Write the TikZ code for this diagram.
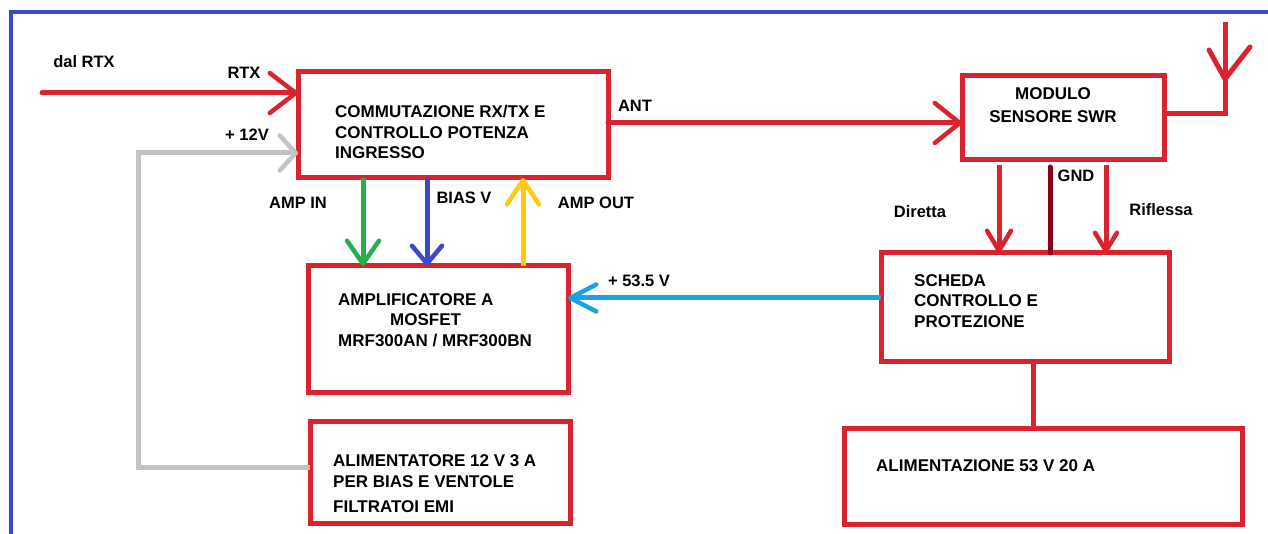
\documentclass[tikz,border=0pt]{standalone}
\usepackage{fontspec}
\setmainfont{Liberation Sans}
\usetikzlibrary{arrows.meta, positioning}

\definecolor{boxred}{HTML}{D9232E}
\definecolor{framblue}{HTML}{3F48CC}
\definecolor{ampgreen}{HTML}{22B14C}
\definecolor{biasblue}{HTML}{3F48CC}
\definecolor{outyellow}{HTML}{FFC90E}
\definecolor{skyblue}{HTML}{1AA3E2}
\definecolor{wiregrey}{HTML}{C3C3C3}
\definecolor{gndred}{HTML}{880015}

\begin{document}
\begin{tikzpicture}[
    x=1pt, y=-1pt,
    barb/.style 2 args={-{Straight Barb[length=#1, width=#2, line width=4.5pt, round]}},
    blockbox/.style={rectangle, draw=boxred, line width=5pt, outer sep=0pt, inner sep=0pt},
    blocktext/.style={anchor=west, align=left, inner sep=0pt, font=\fontsize{17}{20.5}\selectfont\bfseries},
    tag/.style={inner sep=0pt, font=\fontsize{16.5}{19}\selectfont\bfseries},
    wire/.style={line width=5pt, line cap=round}
]
\useasboundingbox (0,0) rectangle (1268,534);

% outer frame
\coordinate (frameA) at (11,534);
\coordinate (frameB) at (11,12);
\coordinate (frameC) at (1268,12);
\draw[framblue, line width=4pt] (frameA) -- (frameB) -- (frameC);

% blocks
\node[blockbox, minimum width=310pt, minimum height=106pt] (commbox) at (453,125) {};
\node[blockbox, minimum width=260pt, minimum height=126pt] (ampbox) at (438,329) {};
\node[blockbox, minimum width=260pt, minimum height=102pt] (psubox) at (440,472) {};
\node[blockbox, minimum width=202pt, minimum height=84pt] (swrbox) at (1063,118) {};
\node[blockbox, minimum width=288pt, minimum height=108pt] (ctrlbox) at (1025,307) {};
\node[blockbox, minimum width=398pt, minimum height=96pt] (mainbox) at (1043,476) {};

% block texts
\node[blocktext] (commtext) at (335,132) {COMMUTAZIONE RX/TX E\\CONTROLLO POTENZA\\INGRESSO};
\node[blocktext] (amptext) at (338,320) {AMPLIFICATORE A\\\hspace*{52pt}MOSFET\\MRF300AN / MRF300BN};
\node[blocktext] (psutext) at (333,461) {ALIMENTATORE 12 V 3 A};
\node[blocktext] (psutextb) at (333,482) {PER BIAS E VENTOLE};
\node[blocktext] (psutextc) at (333,507) {FILTRATOI EMI};
\node[blocktext, align=center, anchor=center] (swrtext) at (1053,105.5) {MODULO\\[2.5pt]SENSORE SWR};
\node[blocktext] (ctrltext) at (914,301) {SCHEDA\\CONTROLLO E\\PROTEZIONE};
\node[blocktext] (maintext) at (876,466) {ALIMENTAZIONE 53 V 20 A};

% free ends
\coordinate (rtxstart) at (42,93);
\coordinate (bend12) at (138,153);
\coordinate (anttop) at (1225,22);
\coordinate (anttip) at (1225,79);
\coordinate (antleft) at (1209,50);
\coordinate (antright) at (1250,47);

% rtx and antenna path
\draw[boxred, wire, barb={26pt}{40pt}] (rtxstart) -- (rtxstart -| commbox.west);
\draw[boxred, wire, barb={25pt}{40pt}] ([yshift=2pt]commbox.east) -- ([yshift=-5pt]swrbox.west);
\draw[boxred, wire, line cap=butt] ([yshift=4pt]swrbox.east) -| (anttop);
\draw[boxred, wire] (antleft) -- (anttip) -- (antright);

% 12 V supply
\draw[wiregrey, wire, line cap=butt, barb={16pt}{35pt}] ([yshift=5pt]psubox.west) -| (bend12) -- (bend12 -| commbox.west);

% amplifier signals
\draw[ampgreen, wire, line cap=butt, barb={23pt}{32pt}] ([xshift=-90pt]commbox.south) -- ([xshift=-75pt]ampbox.north);
\draw[biasblue, wire, line cap=butt, barb={18pt}{30pt}] ([xshift=-26pt]commbox.south) -- ([xshift=-11pt]ampbox.north);
\draw[outyellow, wire, line cap=butt, barb={24pt}{32pt}] ([xshift=85pt]ampbox.north) -- ([xshift=70pt]commbox.south);
\draw[skyblue, wire, line cap=butt, barb={26pt}{27pt}] ([yshift=9pt]ctrlbox.west) -- ([yshift=31pt]ampbox.east);

% swr sensor to control board
\draw[boxred, wire, line cap=butt, barb={20pt}{24pt}] ([xshift=-64pt, yshift=-5pt]swrbox.south) -- ([xshift=-26pt]ctrlbox.north);
\draw[gndred, wire] ([xshift=-13pt, yshift=-7pt]swrbox.south) -- ([xshift=25pt]ctrlbox.north);
\draw[boxred, wire, line cap=butt, barb={18pt}{22pt}] ([xshift=43pt, yshift=-5pt]swrbox.south) -- ([xshift=81pt]ctrlbox.north);
\draw[boxred, wire, line cap=butt] ([xshift=8pt]ctrlbox.south) -- ([xshift=-10pt]mainbox.north);

% labels
\node[tag] (dallabel) at (84,62) {dal RTX};
\node[tag] (rtxlabel) at (244,73) {RTX};
\node[tag] (vlabel) at (247,135) {+ 12V};
\node[tag] (antlabel) at (635,106) {ANT};
\node[tag] (amplabel) at (298,203) {AMP IN};
\node[tag] (biaslabel) at (464,198) {BIAS V};
\node[tag] (outlabel) at (596,203) {AMP OUT};
\node[tag] (gndlabel) at (1076,176) {GND};
\node[tag] (dirlabel) at (920,212) {Diretta};
\node[tag] (riflabel) at (1161,210) {Riflessa};
\node[tag] (powlabel) at (639,281) {+ 53.5 V};

\end{tikzpicture}
\end{document}
